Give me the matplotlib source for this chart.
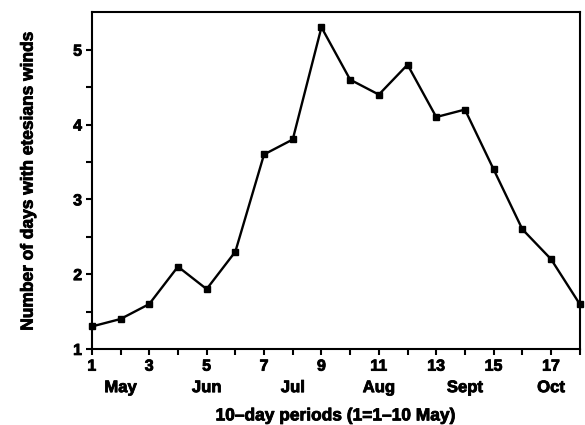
import matplotlib
matplotlib.use("Agg")
import matplotlib.pyplot as plt
import matplotlib.transforms as mtransforms
import matplotlib.patheffects as pe

plt.rcParams['font.family'] = ['Liberation Sans', 'DejaVu Sans']
plt.rcParams['font.weight'] = 'bold'

# 10-day periods and number of days with etesian winds
periods = list(range(1, 19))
days = [1.3, 1.4, 1.6, 2.1, 1.8, 2.3, 3.6, 3.8, 5.3,
        4.6, 4.4, 4.8, 4.1, 4.2, 3.4, 2.6, 2.2, 1.6]

# month labels under the period numbers
month_pos = [2, 5, 8, 11, 14, 17]
month_names = ['May', 'Jun', 'Jul', 'Aug', 'Sept', 'Oct']

# slight stroke to get the heavy look of the original lettering
heavy = [pe.withStroke(linewidth=0.6, foreground='black')]

fig = plt.figure(figsize=(5.85, 4.25), dpi=100)
ax = fig.add_axes([0.157, 0.179, 0.834, 0.792])

ax.plot(periods, days, color='black', linewidth=1.7,
        marker='s', markersize=4.8, clip_on=False, zorder=3)

ax.set_xlim(1, 18)
ax.set_ylim(1, 5.5)

ax.set_xticks(periods)
ax.set_xticklabels([str(p) if p % 2 == 1 else '' for p in periods])
ax.set_yticks([1, 1.5, 2, 2.5, 3, 3.5, 4, 4.5, 5])
ax.set_yticklabels(['1', '', '2', '', '3', '', '4', '', '5'])

ax.tick_params(direction='out', length=4, width=1.5, labelsize=11.5, pad=3)
for lab in ax.get_xticklabels() + ax.get_yticklabels():
    lab.set_path_effects(heavy)
for sp in ax.spines.values():
    sp.set_linewidth(1.5)

# month names as a second row of x labels
trans = mtransforms.blended_transform_factory(ax.transData, ax.transAxes)
for pos, name in zip(month_pos, month_names):
    ax.text(pos, -0.115, name, transform=trans, ha='center', va='center',
            fontsize=12, fontweight='bold', path_effects=heavy)

ax.set_xlabel('10–day periods (1=1–10 May)', fontsize=12.5,
              fontweight='bold', labelpad=25, path_effects=heavy)
ax.set_ylabel('Number of days with etesians winds', fontsize=12.5,
              fontweight='bold', labelpad=27, path_effects=heavy)

fig.savefig('out.png', dpi=100)
